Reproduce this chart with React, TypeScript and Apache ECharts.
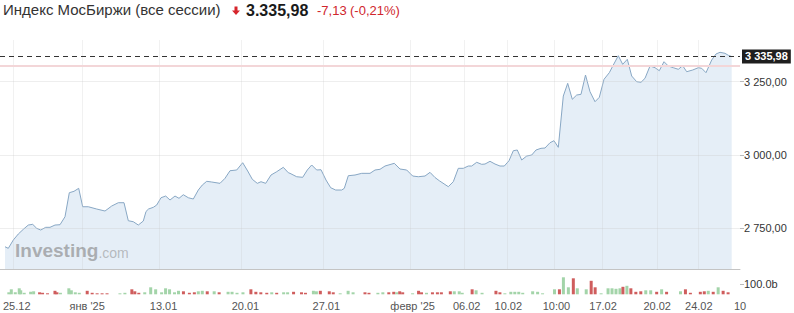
import React, { useEffect, useRef } from "react";
import * as echarts from "echarts";

// ---- Data ----
const TITLE = "Индекс МосБиржи (все сессии)";
const CHANGE = -7.13;
const CHANGE_PCT = -0.21;
const REF_LEVEL = 3304.5;

// time slots (position along the session axis) and closing values
const priceT = [
  5, 8.3, 13.3, 18.3, 23.3, 28.3, 32.7, 36.7, 40.7, 45.7, 50, 55, 60, 65, 69.3, 74, 78.7, 82.7, 88.3, 96.7,
  105, 111.7, 118.3, 124, 128.3, 133.3, 138.3, 143.3, 146, 148.5, 153.3, 156.7, 161, 165.7, 170, 175, 179, 183.3, 188.3, 193.3,
  198.3, 202.3, 206.7, 211.7, 220, 225, 230, 236.7, 242.7, 247.7, 252.3, 257.3, 261, 265.7, 271, 276.7, 283.3, 288.3, 290, 296.7,
  302.7, 307.3, 311.7, 316.7, 321, 326, 330.7, 335.7, 341.7, 344.3, 348.3, 355, 361.7, 370, 375, 380, 385, 394.3, 400, 406.7,
  412.7, 418.3, 425, 430, 435, 439.3, 448.3, 453.3, 458.3, 463.3, 468.3, 471.7, 476.7, 481.7, 485, 490, 495, 500, 504.3, 509,
  513.3, 517.3, 521.7, 526.7, 531.7, 536, 541, 545, 550, 554, 558.3, 563.3, 567.7, 572.3, 576.7, 581, 585.5, 590, 595, 599.3,
  604, 609.3, 613.3, 618.3, 622.7, 627.3, 631.7, 636.7, 641, 645, 650, 655, 659.3, 664, 668.3, 673.3, 678.3, 682.7, 686.7, 692.7,
  698.3, 701.7, 706, 711.7, 716, 720, 725, 728.3, 731.7,
];
const priceV = [
  2687.3, 2681.9, 2710.2, 2730.7, 2746.7, 2761.3, 2763.7, 2750.1, 2744.3, 2753.5, 2753.5, 2761.3, 2762.4, 2789.6, 2871.5, 2876.3, 2886.5, 2823.7, 2823.7, 2815.9,
  2809.1, 2826.1, 2837.4, 2837.4, 2776, 2772.6, 2761.3, 2775, 2807.4, 2815.9, 2821.7, 2829.5, 2854.4, 2860.2, 2846.6, 2860.2, 2852.4, 2864.7, 2854.4, 2850,
  2880.7, 2897.7, 2910.4, 2908, 2903.5, 2920.6, 2946.5, 2948.9, 2973.8, 2945.5, 2917.2, 2903.5, 2909, 2903.5, 2931.8, 2943.1, 2958.1, 2939.7, 2937.6, 2926,
  2924, 2948.9, 2966, 2948.9, 2949.9, 2914.8, 2888.5, 2880.7, 2880.7, 2886.5, 2929.5, 2931.8, 2937.6, 2937.6, 2948.9, 2951.3, 2962.5, 2971.7, 2952.3, 2948.9,
  2928.4, 2926, 2928.4, 2941, 2923.3, 2912.4, 2892, 2909, 2954.7, 2954.7, 2962.5, 2962.5, 2975.2, 2968.3, 2969.3, 2978.6, 2969.3, 2962.5, 2962.5, 2980.6,
  3014.7, 3017.1, 2983, 2996.6, 3000, 3017.1, 3022.9, 3023.9, 3042, 3048.8, 3026.3, 3201.2, 3244.5, 3190, 3204.6, 3207, 3272.8, 3215.9, 3181.8, 3196.8,
  3258.2, 3280.7, 3306.9, 3338.7, 3309.3, 3326.4, 3269.4, 3250, 3248, 3261.6, 3303.5, 3297.7, 3287.5, 3318.2, 3303.5, 3297.7, 3292.3, 3304.6, 3284.1, 3289.9,
  3297.7, 3295.7, 3280.7, 3324, 3344.5, 3350.3, 3346.8, 3340, 3335.98,
];

// volume (billions), 1 = up bar, 0 = down bar
const volT = [
  3, 5.5, 9.5, 13.5, 15, 18.5, 25, 28, 34, 37, 42, 49.5, 51.5, 55, 63.5, 66, 70, 74, 82, 87,
  92, 97, 102, 115, 120, 127, 130, 134, 140, 146, 151, 157, 161, 165, 170, 174, 179, 185, 190, 194,
  198, 203, 210, 215, 224, 228, 233, 239, 247, 252, 257, 263, 268, 273, 280, 284, 290, 298, 302, 310,
  313, 317, 326, 330, 337, 345, 350, 362, 366, 375, 380, 386, 391, 394, 397, 400, 410, 416, 419, 424,
  430, 435, 439, 448, 452, 457, 460, 470, 474, 480, 494, 498, 503, 509, 513, 517, 521, 531, 536, 541,
  553, 558, 562, 567, 572, 576, 585, 590, 594, 600, 607, 611, 615, 619, 622, 626, 630, 635, 640, 645,
  650, 656, 661, 666, 680, 685, 690, 700, 704, 708, 713, 718, 723, 728,
];
const volV = [
  20, 50, 20, 60, 40, 15, 25, 30, 20, 15, 10, 35, 20, 15, 60, 40, 20, 15, 35, 15,
  10, 10, 10, 10, 15, 50, 30, 15, 20, 70, 50, 20, 60, 50, 20, 35, 30, 15, 20, 30,
  35, 30, 30, 20, 25, 25, 15, 20, 50, 25, 20, 15, 20, 15, 20, 20, 25, 20, 15, 35,
  30, 35, 30, 20, 10, 35, 20, 20, 15, 15, 20, 20, 25, 20, 30, 20, 10, 35, 20, 15,
  20, 20, 20, 30, 30, 30, 15, 50, 40, 15, 35, 20, 10, 25, 25, 25, 15, 30, 25, 10,
  50, 50, 170, 70, 160, 60, 50, 135, 70, 10, 60, 60, 55, 60, 75, 85, 60, 25, 30, 40,
  40, 25, 50, 25, 30, 50, 15, 25, 30, 35, 25, 70, 35, 20,
];
const volUp = [
  1, 1, 1, 1, 1, 1, 1, 1, 0, 0, 0, 0, 0, 1, 1, 1, 1, 1, 0, 0,
  0, 0, 0, 1, 1, 0, 0, 0, 1, 1, 1, 1, 1, 1, 1, 1, 0, 0, 0, 1,
  1, 0, 1, 0, 1, 1, 1, 1, 0, 0, 0, 0, 1, 0, 1, 1, 0, 0, 0, 1,
  1, 0, 0, 0, 1, 1, 1, 0, 0, 1, 1, 0, 0, 1, 0, 0, 1, 0, 0, 1,
  0, 0, 0, 0, 1, 1, 1, 0, 1, 1, 0, 0, 1, 1, 1, 1, 1, 1, 1, 1,
  1, 0, 1, 1, 0, 1, 1, 0, 0, 1, 1, 1, 1, 1, 0, 1, 0, 0, 0, 1,
  1, 0, 1, 0, 1, 0, 0, 0, 0, 1, 0, 1, 0, 0,
];

const xLabelPos = [11, 82, 159, 241.5, 323, 410, 464.5, 506.5, 555, 602, 656.5, 698.5, 740];
const xLabelText = ["25.12", "янв '25", "13.01", "20.01", "27.01", "февр '25", "06.02", "10.02", "10:00", "17.02", "20.02", "24.02", "10"];
const vGridPos = [13, 82, 159, 241.5, 323, 410, 464.5, 507, 554, 602, 657, 698];
const yTicks = [2750, 3000, 3250];
const volTicks = [100];

const FONT = '"Liberation Sans", Arial, sans-serif';

function fmtRu(v: number, sep: string): string {
  const neg = v < 0;
  const s = Math.abs(v).toFixed(2);
  const [i, d] = s.split(".");
  const ii = i.replace(/\B(?=(\d{3})+(?!\d))/g, sep);
  return (neg ? "-" : "") + ii + "," + d;
}

export default function App() {
  const ref = useRef<HTMLDivElement>(null);
  useEffect(() => {
    if (!ref.current) return;
    const chart = echarts.init(ref.current, null, { renderer: "svg" });
    const last = priceV[priceV.length - 1];
    const option: any = {
      animation: false,
      textStyle: { fontFamily: FONT },
      grid: [
        { left: 0, right: 54, top: 40, height: 229 },
        { left: 0, right: 54, top: 270, height: 24.3 },
      ],
      xAxis: [
        {
          type: "value",
          gridIndex: 0,
          min: 0,
          max: 740,
          axisLine: { show: true, onZero: false, lineStyle: { color: "#c4c4c4", width: 1 } },
          axisTick: { show: false },
          axisLabel: { show: false },
          splitLine: { show: false },
        },
        {
          type: "value",
          gridIndex: 1,
          min: 0,
          max: 740,
          axisLine: { show: false, onZero: false },
          axisTick: { show: false, customValues: xLabelPos },
          splitLine: { show: false },
          axisLabel: {
            show: true,
            customValues: xLabelPos,
            margin: 6,
            color: "#555",
            fontSize: 11,
            fontFamily: FONT,
            formatter: (v: number) => {
              const i = xLabelPos.indexOf(v);
              return i >= 0 ? xLabelText[i] : "";
            },
          },
        },
      ],
      yAxis: [
        {
          type: "value",
          gridIndex: 0,
          position: "right",
          min: 2611.4,
          max: 3392.2,
          axisLine: { show: false, onZero: false },
          axisTick: { show: true, inside: false, length: 4, customValues: yTicks, lineStyle: { color: "#bbb" } },
          axisLabel: {
            customValues: yTicks,
            margin: 4,
            color: "#333",
            fontSize: 11,
            fontFamily: FONT,
            formatter: (v: number) => fmtRu(v, " "),
          },
          splitLine: { show: false },
        },
        {
          type: "value",
          gridIndex: 1,
          position: "right",
          min: 0,
          max: 243,
          axisLine: { show: false, onZero: false },
          axisTick: { show: true, length: 4, customValues: volTicks, lineStyle: { color: "#bbb" } },
          axisLabel: {
            customValues: volTicks,
            margin: 4,
            color: "#333",
            fontSize: 11,
            fontFamily: FONT,
            formatter: (v: number) => v.toFixed(1) + "b",
          },
          splitLine: { show: false },
        },
      ],
      series: [
        {
          type: "line",
          xAxisIndex: 0,
          yAxisIndex: 0,
          data: priceT.map((t, i) => [t, priceV[i]]),
          showSymbol: false,
          symbol: "none",
          lineStyle: { color: "#88a7c4", width: 1 },
          areaStyle: { color: "#e5eef7", opacity: 1 },
          markLine: {
            silent: true,
            symbol: "none",
            data: [
              ...vGridPos.map((x) => ({
                xAxis: x,
                lineStyle: { color: "rgba(200,200,200,0.25)", width: 1, type: "solid" },
                label: { show: false },
              })),
              ...yTicks.map((y) => ({
                yAxis: y,
                lineStyle: { color: "rgba(200,200,200,0.3)", width: 1, type: "solid" },
                label: { show: false },
              })),
              {
                yAxis: REF_LEVEL,
                lineStyle: { color: "#f3d6d8", width: 2, type: "solid" },
                label: { show: false },
              },
              {
                yAxis: last,
                lineStyle: { color: "#333", width: 1, type: [5, 4] },
                label: {
                  show: true,
                  position: "end",
                  distance: 2,
                  formatter: () => fmtRu(last, " "),
                  color: "#fff",
                  backgroundColor: "#1f1f1f",
                  padding: [2, 3, 1, 3],
                  fontSize: 11,
                  fontWeight: "bold",
                  fontFamily: FONT,
                },
              },
            ],
          },
          z: 3,
        },
        {
          type: "bar",
          xAxisIndex: 1,
          yAxisIndex: 1,
          barWidth: 3,
          data: volT.map((t, i) => ({
            value: [t, volV[i]],
            itemStyle: { color: volUp[i] ? "#a3d4a9" : "#cf5d5d" },
          })),
        },
      ],
      graphic: [
        {
          type: "text",
          left: 3,
          top: 2,
          style: { text: TITLE, fill: "#333", fontSize: 15, fontFamily: FONT },
        },
        {
          type: "polygon",
          shape: {
            points: [
              [234.5, 6.5], [237.5, 6.5], [237.5, 10.5], [240, 10.5], [236, 15], [232, 10.5], [234.5, 10.5],
            ],
          },
          style: { fill: "#d6252c" },
        },
        {
          type: "text",
          left: 246,
          top: 2,
          style: { text: fmtRu(last, "."), fill: "#1a1a1a", fontSize: 16, fontWeight: "bold", fontFamily: FONT },
        },
        {
          type: "text",
          left: 317,
          top: 4,
          style: { text: fmtRu(CHANGE, ""), fill: "#d0262d", fontSize: 13, fontFamily: FONT },
        },
        {
          type: "text",
          left: 350,
          top: 4,
          style: { text: "(" + fmtRu(CHANGE_PCT, "") + "%)", fill: "#d0262d", fontSize: 13, fontFamily: FONT },
        },
        {
          type: "text",
          left: 15,
          top: 241,
          z: 10,
          style: {
            text: "{a|Investing}{b|.com}",
            rich: {
              a: { fontSize: 19, fontWeight: "bold", fill: "rgba(130,130,130,0.6)", fontFamily: FONT },
              b: { fontSize: 14, fill: "rgba(140,140,140,0.55)", fontFamily: FONT, padding: [4, 0, 0, 0] },
            },
          },
        },
      ],
    };
    chart.setOption(option);
    return () => chart.dispose();
  }, []);
  return (
    <div
      ref={ref}
      style={{ position: "fixed", left: 0, top: 0, width: 794, height: 313, background: "#fff" }}
    />
  );
}
